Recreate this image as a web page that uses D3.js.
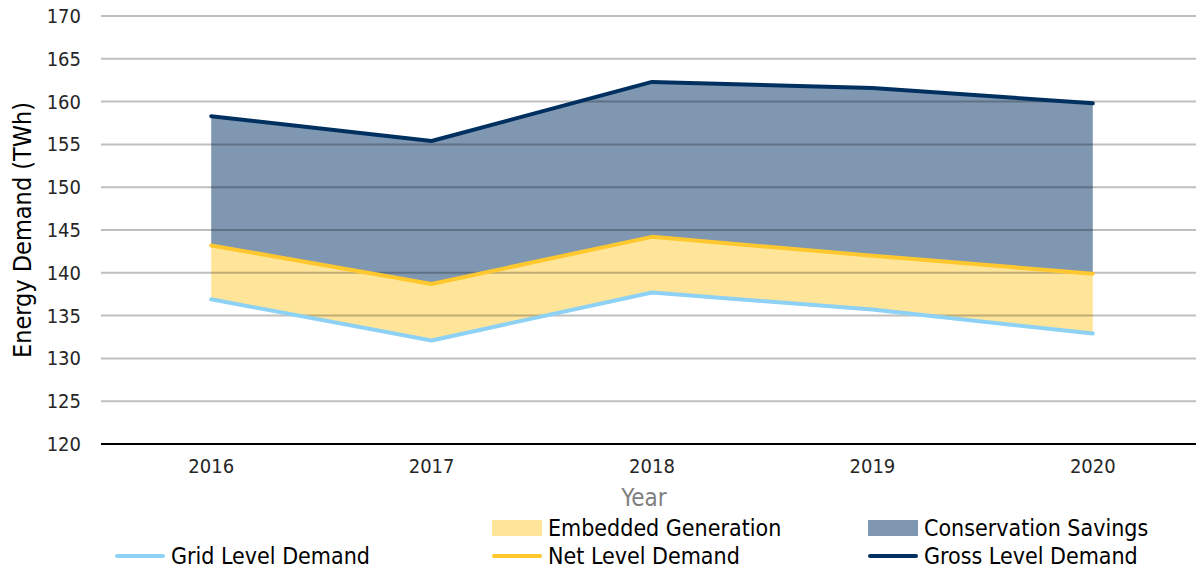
<!DOCTYPE html>
<html>
<head>
<meta charset="utf-8">
<script src="https://cdn.jsdelivr.net/npm/d3@7"></script>
<style>
  body { margin: 0; background: #fff; }
  text { font-family: "DejaVu Sans Condensed", "DejaVu Sans", sans-serif; font-stretch: condensed; }
</style>
</head>
<body>
<svg id="chart" width="1196" height="571"></svg>
<script>
// données (TWh)
const years = ["2016", "2017", "2018", "2019", "2020"];
const grossDemand = [158.3, 155.4, 162.3, 161.6, 159.8];
const netDemand = [143.2, 138.7, 144.2, 142.0, 139.9];
const gridDemand = [136.9, 132.1, 137.7, 135.7, 132.9];
const yTicks = [120, 125, 130, 135, 140, 145, 150, 155, 160, 165, 170];

const svg = d3.select("#chart");

const x = d3.scalePoint().domain(years).range([101, 1203]).padding(0.5);
const y = d3.scaleLinear().domain([120, 170]).range([444, 16]);

const rows = years.map((yr, i) => ({
    year: yr, gross: grossDemand[i], net: netDemand[i], grid: gridDemand[i]
}));

// aires
const areaEmbedded = d3.area()
    .x(d => x(d.year)).y0(d => y(d.grid)).y1(d => y(d.net));
const areaConservation = d3.area()
    .x(d => x(d.year)).y0(d => y(d.net)).y1(d => y(d.gross));

svg.append("path").datum(rows)
    .attr("d", areaEmbedded)
    .attr("fill", "#FFE59A");
svg.append("path").datum(rows)
    .attr("d", areaConservation)
    .attr("fill", "#7F97B0");

// grille (semi-transparente, par-dessus les aires)
svg.append("g").selectAll("line")
    .data(yTicks.filter(t => t > 120))
    .join("line")
    .attr("x1", 101).attr("x2", 1196)
    .attr("y1", d => y(d)).attr("y2", d => y(d))
    .attr("stroke", "rgba(0,0,0,0.25)")
    .attr("stroke-width", 2);

// axe horizontal
svg.append("line")
    .attr("x1", 101).attr("x2", 1196)
    .attr("y1", y(120)).attr("y2", y(120))
    .attr("stroke", "#000").attr("stroke-width", 2);

// courbes
function drawLine(key, color) {
    svg.append("path").datum(rows)
        .attr("d", d3.line().x(d => x(d.year)).y(d => y(d[key])))
        .attr("fill", "none")
        .attr("stroke", color)
        .attr("stroke-width", 4)
        .attr("stroke-linecap", "round")
        .attr("stroke-linejoin", "round");
}
drawLine("grid", "#8DD1F4");
drawLine("net", "#FFC82E");
drawLine("gross", "#00305F");

// étiquettes de l'axe Y
svg.append("g").selectAll("text")
    .data(yTicks)
    .join("text")
    .attr("x", 81)
    .attr("y", d => y(d))
    .attr("dy", "0.35em")
    .attr("text-anchor", "end")
    .attr("font-size", 20)
    .attr("fill", "#262626")
    .text(d => d);

// étiquettes de l'axe X
svg.append("g").selectAll("text")
    .data(years)
    .join("text")
    .attr("x", d => x(d))
    .attr("y", 466)
    .attr("dy", "0.35em")
    .attr("text-anchor", "middle")
    .attr("font-size", 20)
    .attr("fill", "#262626")
    .text(d => d);

// titres des axes
svg.append("text")
    .attr("x", 644).attr("y", 498)
    .attr("dy", "0.35em")
    .attr("text-anchor", "middle")
    .attr("font-size", 24)
    .attr("fill", "#7F7F7F")
    .text("Year");

svg.append("text")
    .attr("transform", "translate(22,230) rotate(-90)")
    .attr("dy", "0.35em")
    .attr("text-anchor", "middle")
    .attr("font-size", 25)
    .attr("fill", "#000")
    .text("Energy Demand (TWh)");

// légende
const legendItems = [
    { label: "Embedded Generation", type: "rect", color: "#FFE59A", x: 492, y: 528 },
    { label: "Conservation Savings", type: "rect", color: "#7F97B0", x: 868, y: 528 },
    { label: "Grid Level Demand", type: "line", color: "#8DD1F4", x: 115, y: 556 },
    { label: "Net Level Demand", type: "line", color: "#FFC82E", x: 492, y: 556 },
    { label: "Gross Level Demand", type: "line", color: "#00305F", x: 868, y: 556 }
];

const legend = svg.append("g");
legendItems.forEach(function (d) {
    if (d.type === "rect") {
        legend.append("rect")
            .attr("x", d.x).attr("y", d.y - 8)
            .attr("width", 50).attr("height", 16)
            .attr("fill", d.color);
    } else {
        legend.append("line")
            .attr("x1", d.x + 2).attr("x2", d.x + 48)
            .attr("y1", d.y).attr("y2", d.y)
            .attr("stroke", d.color)
            .attr("stroke-width", 4)
            .attr("stroke-linecap", "round");
    }
    legend.append("text")
        .attr("x", d.x + 56).attr("y", d.y)
        .attr("dy", "0.35em")
        .attr("font-size", 23)
        .attr("fill", "#000")
        .text(d.label);
});
</script>
</body>
</html>
